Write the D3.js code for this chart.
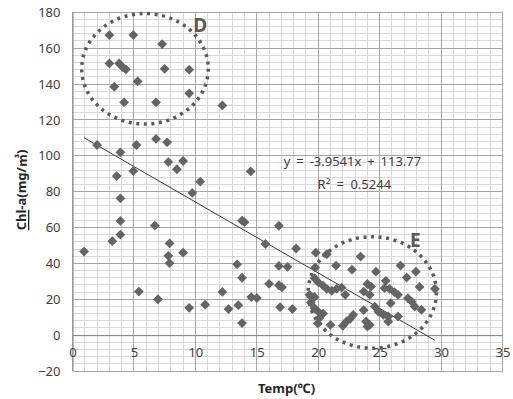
<!DOCTYPE html>
<html>
<head>
<meta charset="utf-8">
<script src="https://cdn.jsdelivr.net/npm/d3@7"></script>
<style>
  html, body { margin: 0; padding: 0; background: #fff; }
  svg { display: block; }
  text { font-family: "Noto Sans", "Noto Sans CJK KR", sans-serif; }
</style>
</head>
<body>
<svg id="chart" width="513" height="399"></svg>
<script>
// ---- data ----
const tempC = [
  3.0, 4.95, 7.3, 3.0, 3.8, 4.1, 4.35, 7.5, 9.5, 3.4, 5.3, 9.5, 4.2, 6.8, 12.2,
  2.0, 3.9, 5.2, 6.8, 7.7, 7.8, 9.0, 8.5, 3.6, 4.95, 10.4, 9.75, 3.9, 3.9, 6.7,
  3.9, 0.94, 3.24, 7.9, 7.8, 7.9, 9.0, 5.4, 6.96, 9.5, 10.8, 12.2, 12.7, 13.4, 13.8,
  13.5, 13.8, 13.8, 14.0, 14.55, 15.0, 14.5, 16.8, 15.7, 18.2, 16.8, 17.5, 16.0, 16.8, 17.05,
  16.9, 17.9,
  19.8, 20.7, 23.45, 21.45, 19.75, 22.75, 19.7, 20.0, 20.4, 20.7, 21.1, 21.5, 21.9, 22.2,
  19.3, 19.7, 19.4, 23.7, 19.7, 20.0, 20.4, 20.1, 19.96, 21.0, 22.0, 22.3, 22.6, 22.85,
  23.7, 23.9, 24.0, 26.7, 27.95, 27.2, 24.7, 25.5, 25.4, 25.8, 26.2, 26.5, 28.25, 29.5,
  24.3, 24.2, 25.9, 27.3, 27.6, 27.85, 28.4, 24.6, 24.9, 25.3, 25.7, 25.7, 26.5, 24.2, 24.0
];
const chlA = [
  167.3, 167.3, 162.3, 151.5, 151.5, 149.3, 148.2, 148.5, 148.0, 138.5, 141.5, 134.8, 129.8, 129.8, 128.1,
  106, 101.9, 106, 109.4, 107.5, 96.5, 97.1, 92.5, 88.7, 91.5, 85.6, 79.3, 76.3, 63.7, 61.1,
  56, 46.6, 52.4, 51.2, 44.2, 40.1, 46, 24.3, 20, 15.2, 17, 24.1, 14.5, 39.5, 32,
  16.7, 6.7, 63.8, 63, 21.2, 20.7, 91.3, 61, 50.8, 48.3, 38.6, 38.1, 28.6, 27.8, 26.7,
  15.6, 14.5,
  46, 45.1, 43.8, 38.8, 37.7, 36.5, 31.8, 29.5, 27.6, 25.8, 24.7, 25.8, 26.5, 22.5,
  22.5, 21.3, 18.2, 24.3, 15, 13.1, 12.0, 9.5, 6.5, 5.7, 5.2, 7.6, 9.1, 11.3,
  13.9, 7.6, 4.8, 38.8, 35.4, 32.1, 35.4, 30.3, 26.2, 25.8, 24, 22.5, 26.9, 25.8,
  27.1, 22.5, 17.8, 20.6, 18.7, 15.9, 14.1, 15.9, 13.1, 11.3, 10.4, 7.6, 10.4, 5.7, 28.5
];
const xTicks = [0, 5, 10, 15, 20, 25, 30, 35];
const yTicks = [-20, 0, 20, 40, 60, 80, 100, 120, 140, 160, 180];
const trendSlope = -3.9541;
const trendIntercept = 113.77;
const trendLabel = "y = -3.9541x + 113.77";
const r2Label = "R² = 0.5244";
const groupLabels = ["D", "E"];
const groupCx = [5.9, 24.4];
const groupCy = [148.5, 23.8];
const groupRx = [5.15, 5.22];
const groupRy = [30.8, 31.1];
const xTitle = "Temp(℃)";
const yTitle = "Chl-a(mg/㎥)";

// ---- chart ----
const svg = d3.select("#chart");
svg.append("rect").attr("width", 513).attr("height", 399).attr("fill", "#fff");

const L = 72.5, R = 502.5, T = 12.3, B = 371;
const x = d3.scaleLinear().domain([0, 35]).range([L, R]);
const y = d3.scaleLinear().domain([-20, 180]).range([B, T]);

const grid = svg.append("g").attr("shape-rendering", "crispEdges");
// minor grid
grid.selectAll(".vmin").data(d3.range(0, 36, 1).filter(v => v % 5 !== 0)).enter()
  .append("line").attr("x1", d => x(d)).attr("x2", d => x(d)).attr("y1", T).attr("y2", B)
  .attr("stroke", "#d9d9d9").attr("stroke-width", 1);
grid.selectAll(".hmin").data(d3.range(-20, 181, 4).filter(v => v % 20 !== 0)).enter()
  .append("line").attr("y1", d => y(d)).attr("y2", d => y(d)).attr("x1", L).attr("x2", R)
  .attr("stroke", "#d9d9d9").attr("stroke-width", 1);
// major grid
grid.selectAll(".vmaj").data(xTicks).enter()
  .append("line").attr("x1", d => x(d)).attr("x2", d => x(d)).attr("y1", T).attr("y2", B)
  .attr("stroke", "#a6a6a6").attr("stroke-width", 1);
grid.selectAll(".hmaj").data(yTicks).enter()
  .append("line").attr("y1", d => y(d)).attr("y2", d => y(d)).attr("x1", L).attr("x2", R)
  .attr("stroke", "#a6a6a6").attr("stroke-width", 1);

// axes
const yAxis = d3.axisLeft(y).tickValues(yTicks).tickSize(0).tickPadding(12);
const gy = svg.append("g").attr("transform", `translate(${L},0)`).call(yAxis);
gy.select(".domain").attr("stroke", "#868686");
gy.selectAll("text").attr("font-size", 13).attr("fill", "#404040");

const xAxis = d3.axisBottom(x).tickValues(xTicks).tickSize(0).tickPadding(13);
const gx = svg.append("g").attr("transform", `translate(0,${y(0)})`).call(xAxis);
gx.select(".domain").attr("stroke", "#868686");
gx.selectAll("text").attr("font-size", 13).attr("fill", "#404040");

// ellipses
const ell = svg.append("g");
groupLabels.forEach((lab, i) => {
  ell.append("ellipse")
    .attr("cx", x(groupCx[i])).attr("cy", y(groupCy[i]))
    .attr("rx", x(groupRx[i]) - x(0)).attr("ry", y(0) - y(groupRy[i]))
    .attr("fill", "none").attr("stroke", "#595959")
    .attr("stroke-width", 3.5).attr("stroke-dasharray", "3 4.6");
});

// trendline
const xs = d3.extent(tempC);
svg.append("line")
  .attr("x1", x(xs[0])).attr("y1", y(trendSlope * xs[0] + trendIntercept))
  .attr("x2", x(xs[1])).attr("y2", y(trendSlope * xs[1] + trendIntercept))
  .attr("stroke", "#3a3a3a").attr("stroke-width", 1);

// points
const sym = d3.symbol().type(d3.symbolSquare).size(48);
svg.append("g").selectAll("path").data(tempC.map((t, i) => [t, chlA[i]])).enter()
  .append("path")
  .attr("d", sym)
  .attr("transform", d => `translate(${x(d[0])},${y(d[1])}) rotate(45)`)
  .attr("fill", "#646464");

// group labels
const labPos = [[10.4, 172.9], [27.9, 53.1]];
groupLabels.forEach((lab, i) => {
  svg.append("text").attr("x", x(labPos[i][0])).attr("y", y(labPos[i][1]))
    .attr("text-anchor", "middle").attr("dominant-baseline", "central")
    .attr("font-size", 19).attr("font-weight", "bold").attr("fill", "#595959")
    .text(lab);
});

// trend equation
svg.append("text").attr("x", x(17.2)).attr("y", y(97.3))
  .attr("dominant-baseline", "central").attr("font-size", 13).attr("fill", "#404040")
  .attr("word-spacing", 2.5)
  .text(trendLabel);
svg.append("text").attr("x", x(19.95)).attr("y", y(84))
  .attr("dominant-baseline", "central").attr("font-size", 13).attr("fill", "#404040")
  .attr("word-spacing", 3)
  .text(r2Label);

// titles
svg.append("text").attr("x", 286.5).attr("y", 388)
  .attr("text-anchor", "middle").attr("dominant-baseline", "central")
  .attr("font-size", 13).attr("font-weight", "bold").attr("fill", "#262626")
  .text(xTitle);
const yt = svg.append("text").attr("transform", "translate(21,190) rotate(-90)")
  .attr("text-anchor", "middle").attr("dominant-baseline", "central")
  .attr("font-size", 13).attr("font-weight", "bold").attr("fill", "#262626");
yt.append("tspan").attr("text-decoration", "underline").text(yTitle.slice(0, 3));
yt.append("tspan").text(yTitle.slice(3));
</script>
</body>
</html>
